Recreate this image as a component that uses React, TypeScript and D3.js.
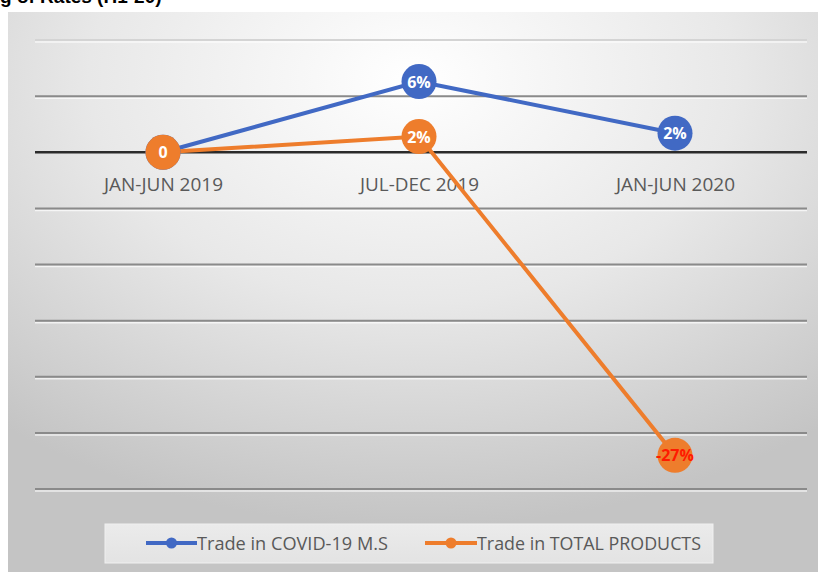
import React from "react";
import * as d3 from "d3";

const categories = ["JAN-JUN 2019", "JUL-DEC 2019", "JAN-JUN 2020"];
const covidValues = [0, 6.3, 1.7];
const totalValues = [0, 1.4, -27];
const covidLabels = ["", "6%", "2%"];
const totalLabels = ["0", "2%", "-27%"];
const yTicks = [10, 5, 0, -5, -10, -15, -20, -25, -30];
const seriesNames = ["Trade in COVID-19 M.S", "Trade in TOTAL PRODUCTS"];

const W = 818;
const H = 572;
const BLUE = "#4169c4";
const ORANGE = "#ee7d2c";
const FONT = "'Open Sans', Roboto, sans-serif";

export default function App() {
  const x = d3.scaleBand<string>().domain(categories).range([35, 803]);
  const y = d3.scaleLinear().domain([-30, 10]).range([489, 40]);
  const cx = (c: string) => (x(c) as number) + x.bandwidth() / 2;
  const line = d3
    .line<number>()
    .x((_, i) => cx(categories[i]))
    .y((d) => y(d));

  const r = 17.5;

  const legendItems = [
    { lx: 146, tx: 197, tw: 191, color: BLUE },
    { lx: 425, tx: 477, tw: 224, color: ORANGE },
  ];

  return (
    <svg
      width={W}
      height={H}
      style={{ position: "absolute", left: 0, top: 0 }}
    >
      <defs>
        <radialGradient id="bg" cx="0.5" cy="0.12" r="0.8">
          <stop offset="0" stopColor="#ffffff" />
          <stop offset="0.5" stopColor="#e8e8e8" />
          <stop offset="1" stopColor="#c4c4c4" />
        </radialGradient>
        <linearGradient id="leg" x1="0" y1="0" x2="0" y2="1">
          <stop offset="0" stopColor="#ebebeb" />
          <stop offset="1" stopColor="#e3e3e3" />
        </linearGradient>
      </defs>
      <rect x={0} y={0} width={W} height={H} fill="#ffffff" />
      <text
        x={0}
        y={3}
        fontFamily="'Liberation Sans', Arial, sans-serif"
        fontWeight="bold"
        fontSize={19}
        fill="#000"
      >
        g of Rates (H1-20)
      </text>
      <rect x={8} y={12} width={W - 8} height={H - 12} fill="url(#bg)" />
      {yTicks.map((t) => (
        <g key={t}>
          {t !== 0 && (
            <line
              x1={35}
              x2={807}
              y1={y(t) + 2}
              y2={y(t) + 2}
              stroke="#ffffff"
              strokeOpacity={0.7}
              strokeWidth={1.5}
            />
          )}
          <line
            x1={35}
            x2={807}
            y1={y(t)}
            y2={y(t)}
            stroke={t === 0 ? "#2b2b2b" : t === 10 ? "#d4d4d4" : "#8a8a8a"}
            strokeWidth={t === 0 ? 2.5 : 2}
          />
        </g>
      ))}
      {categories.map((c) => (
        <text
          key={c}
          x={cx(c) - 59}
          y={191}
          textLength={119}
          lengthAdjust="spacingAndGlyphs"
          fontFamily={FONT}
          fontSize={18}
          fill="#595959"
        >
          {c}
        </text>
      ))}
      <path d={line(covidValues) || ""} fill="none" stroke={BLUE} strokeWidth={4} />
      <path d={line(totalValues) || ""} fill="none" stroke={ORANGE} strokeWidth={4} />
      {covidValues.map((v, i) => (
        <g key={"c" + i}>
          <circle cx={cx(categories[i])} cy={y(v)} r={r} fill={BLUE} />
          <text
            x={cx(categories[i])}
            y={y(v) + 6}
            textAnchor="middle"
            fontFamily={FONT}
            fontWeight="bold"
            fontSize={16}
            fill="#ffffff"
          >
            {covidLabels[i]}
          </text>
        </g>
      ))}
      {totalValues.map((v, i) => (
        <g key={"t" + i}>
          <circle cx={cx(categories[i])} cy={y(v)} r={r} fill={ORANGE} />
          <text
            x={cx(categories[i])}
            y={y(v) + 6}
            textAnchor="middle"
            fontFamily={FONT}
            fontWeight="bold"
            fontSize={16}
            fill={v < 0 ? "#ff1a00" : "#ffffff"}
          >
            {totalLabels[i]}
          </text>
        </g>
      ))}
      <rect x={105} y={524} width={608} height={39} fill="url(#leg)" stroke="#f0f0f0" strokeWidth={1} />
      {seriesNames.map((s, i) => {
        const it = legendItems[i];
        return (
          <g key={s}>
            <line x1={it.lx} x2={it.tx} y1={543} y2={543} stroke={it.color} strokeWidth={4} />
            <circle cx={(it.lx + it.tx) / 2} cy={543} r={5.5} fill={it.color} />
            <text
              x={it.tx}
              y={550}
              textLength={it.tw}
              lengthAdjust="spacingAndGlyphs"
              fontFamily={FONT}
              fontSize={19}
              fill="#595959"
            >
              {s}
            </text>
          </g>
        );
      })}
    </svg>
  );
}
